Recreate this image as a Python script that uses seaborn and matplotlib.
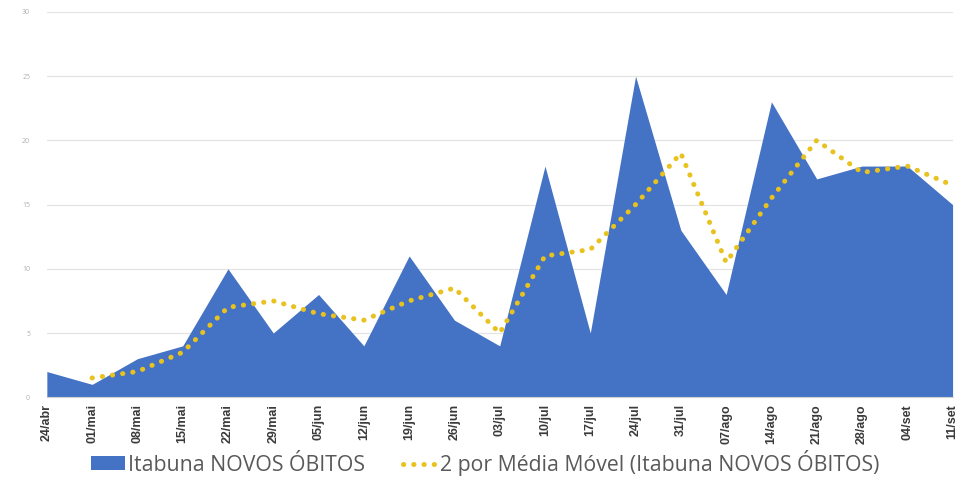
import numpy as np
import pandas as pd
import matplotlib
matplotlib.use('Agg')
import matplotlib.pyplot as plt
import seaborn as sns
from matplotlib.patches import Patch
from matplotlib.lines import Line2D

# semanas (rótulos do eixo x)
semanas = ['24/abr', '01/mai', '08/mai', '15/mai', '22/mai', '29/mai', '05/jun',
           '12/jun', '19/jun', '26/jun', '03/jul', '10/jul', '17/jul', '24/jul',
           '31/jul', '07/ago', '14/ago', '21/ago', '28/ago', '04/set', '11/set']
# novos óbitos por semana
novos_obitos = [2, 1, 3, 4, 10, 5, 8, 4, 11, 6, 4, 18, 5, 25, 13, 8, 23, 17, 18, 18, 15]
# média móvel de 2 períodos (sem valor na primeira semana)
media_movel = [np.nan, 1.5, 2, 3.5, 7, 7.5, 6.5, 6, 7.5, 8.5, 5, 11, 11.5, 15,
               19, 10.5, 15.5, 20, 17.5, 18, 16.5]
y_ticks = [0, 5, 10, 15, 20, 25, 30]

df = pd.DataFrame({'semana': semanas, 'x': range(len(semanas)),
                   'obitos': novos_obitos, 'media': media_movel})

sns.set_style('white')
plt.rcParams['font.family'] = ['Open Sans', 'DejaVu Sans']

fig = plt.figure(figsize=(9.76, 4.78), dpi=100)
ax = fig.add_axes([0.048, 0.169, 0.928, 0.806])

azul = '#4472C4'
amarelo = '#E8C21E'
estilo_pontos = (0, (0.05, 2.0))

ax.fill_between(df['x'], 0, df['obitos'], color=azul, linewidth=0, zorder=2)
sns.lineplot(data=df, x='x', y='media', ax=ax, color=amarelo, linewidth=3.6,
             linestyle=estilo_pontos, dash_capstyle='round', zorder=3)

ax.set_xlim(0, len(semanas) - 1)
ax.set_ylim(0, 30)
ax.set_yticks(y_ticks)
ax.set_yticklabels([str(v) for v in y_ticks], fontsize=5, color='#b0b0b0')
ax.set_xticks(df['x'])
ax.set_xticklabels(semanas, rotation=90, fontsize=9, fontweight='bold',
                   color='#3a3a3a', family=['Liberation Sans', 'DejaVu Sans'])
ax.tick_params(axis='x', length=4, color='#d0d0d0', pad=1)
ax.tick_params(axis='y', length=0, pad=12)
ax.yaxis.grid(True, color='#e4e4e4', linewidth=0.9, zorder=0)
ax.set_axisbelow(True)
for s in ['top', 'right', 'left']:
    ax.spines[s].set_visible(False)
ax.spines['bottom'].set_color('#d0d0d0')
ax.set_xlabel('')
ax.set_ylabel('')

handles = [Patch(facecolor=azul, edgecolor='none'),
           Line2D([0], [0], color=amarelo, linewidth=3.6, linestyle=estilo_pontos,
                  dash_capstyle='round')]
labels = ['Itabuna NOVOS ÓBITOS', '2 por Média Móvel (Itabuna NOVOS ÓBITOS)']
fig.legend(handles, labels, loc='center', bbox_to_anchor=(0.497, 0.032), ncol=2,
           frameon=False, fontsize=15.3, labelcolor='#595959', handlelength=1.6,
           handleheight=0.6, handletextpad=0.15, columnspacing=1.8)

fig.savefig('out.png', dpi=100)
